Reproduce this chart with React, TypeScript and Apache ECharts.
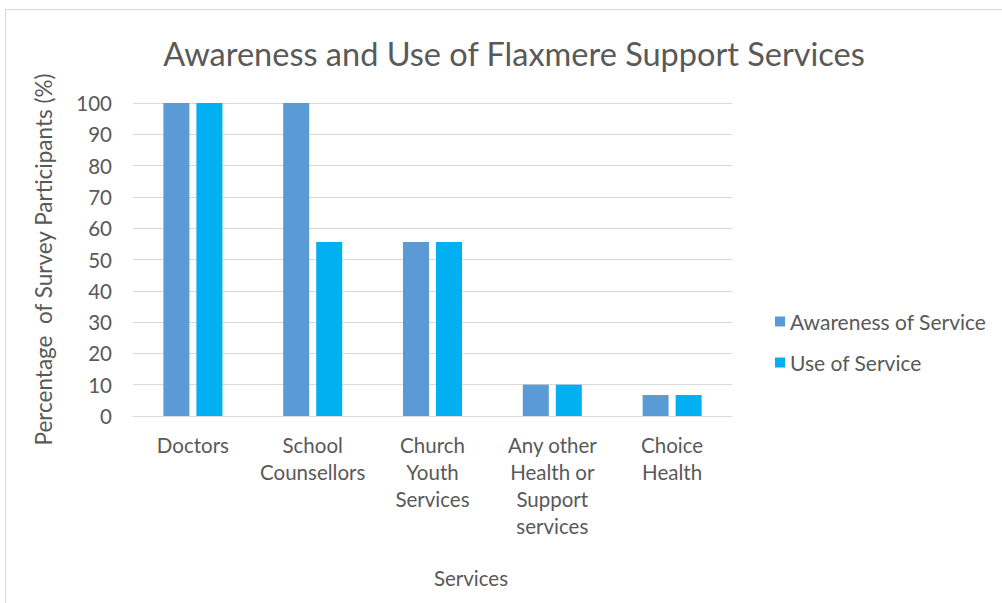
import React, { useEffect, useRef } from "react";
import * as echarts from "echarts";

const categories = [
  "Doctors",
  "School\nCounsellors",
  "Church\nYouth\nServices",
  "Any other\nHealth or\nSupport\nservices",
  "Choice\nHealth",
];
const awareness = [100, 100, 55.6, 10, 6.7];
const useOfService = [100, 55.6, 55.6, 10, 6.7];
const yTicks = { min: 0, max: 100, interval: 10 };

const FONT = "Lato";
const GRAY = "#595959";

export default function App() {
  const ref = useRef<HTMLDivElement>(null);
  useEffect(() => {
    if (!ref.current) return;
    const chart = echarts.init(ref.current, null, { renderer: "svg" });
    chart.setOption({
      animation: false,
      backgroundColor: "#ffffff",
      textStyle: { fontFamily: FONT },
      title: {
        text: "Awareness and Use of Flaxmere Support Services",
        left: 509,
        top: 32,
        textAlign: "center",
        textStyle: { fontFamily: FONT, fontSize: 32.5, fontWeight: "normal", color: GRAY },
      },
      legend: {
        orient: "vertical",
        left: 770,
        top: 306,
        itemWidth: 10,
        itemHeight: 10,
        itemGap: 20,
        icon: "rect",
        textStyle: { fontFamily: FONT, fontSize: 21, color: GRAY },
        data: ["Awareness of Service", "Use of Service"],
      },
      grid: { left: 133, right: 270, top: 103, bottom: 187, containLabel: false },
      xAxis: {
        type: "category",
        data: categories,
        axisLine: { show: true, lineStyle: { color: "#D9D9D9" } },
        axisTick: { show: false },
        axisLabel: {
          fontFamily: FONT,
          fontSize: 20.5,
          color: GRAY,
          lineHeight: 27,
          margin: 15,
          interval: 0,
        },
      },
      yAxis: {
        type: "value",
        min: yTicks.min,
        max: yTicks.max,
        interval: yTicks.interval,
        name: "Percentage  of Survey Participants (%)",
        nameLocation: "middle",
        nameGap: 78,
        nameTextStyle: { fontFamily: FONT, fontSize: 22.5, color: GRAY },
        axisLine: { show: false },
        axisTick: { show: false },
        splitLine: { lineStyle: { color: "#D9D9D9", width: 1 } },
        axisLabel: { fontFamily: FONT, fontSize: 20.5, color: GRAY, margin: 21 },
      },
      series: [
        {
          name: "Awareness of Service",
          type: "bar",
          data: awareness,
          barWidth: 26,
          barGap: "27%",
          itemStyle: { color: "#5B9BD5" },
        },
        {
          name: "Use of Service",
          type: "bar",
          data: useOfService,
          barWidth: 26,
          itemStyle: { color: "#00B0F0" },
        },
      ],
      graphic: [
        {
          type: "rect",
          shape: { x: 5.5, y: 9.5, width: 1100, height: 700 },
          style: { fill: "none", stroke: "#D9D9D9", lineWidth: 1 },
          silent: true,
        },
        {
          type: "text",
          x: 471,
          y: 578,
          style: {
            text: "Services",
            fontFamily: FONT,
            fontSize: 20.5,
            fill: GRAY,
            align: "center",
            verticalAlign: "middle",
          },
        },
      ],
    });
    return () => chart.dispose();
  }, []);
  return (
    <div
      ref={ref}
      style={{ position: "fixed", left: 0, top: 0, width: 1002, height: 603 }}
    />
  );
}
